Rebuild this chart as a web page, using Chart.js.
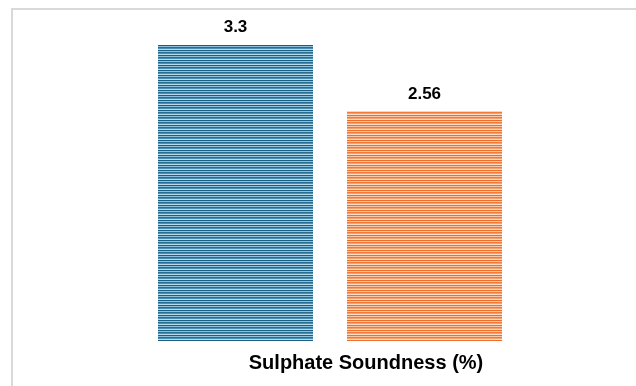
<!DOCTYPE html>
<html>
<head>
<meta charset="utf-8">
<script src="https://cdn.jsdelivr.net/npm/chart.js@4"></script>
<style>
  html, body { margin: 0; padding: 0; background: #ffffff; }
  #wrap { position: relative; width: 636px; height: 386px; overflow: hidden; }
  #frame { position: absolute; left: 11px; top: 8px; width: 700px; height: 500px;
           border-left: 2px solid #d9d9d9; border-top: 2px solid #d9d9d9; }
  canvas { position: absolute; left: 0; top: 0; }
</style>
</head>
<body>
<div id="wrap">
  <div id="frame"></div>
  <canvas id="c" width="636" height="386"></canvas>
</div>
<script>
// Sulphate soundness test results
const categories = ['A', 'B'];
const soundnessValues = [3.3, 2.56];
const axisTitle = 'Sulphate Soundness (%)';

// Horizontal line-stripe fills for the bars
function stripes(rows) {
  const c = document.createElement('canvas');
  c.width = 8; c.height = rows.length;
  const g = c.getContext('2d');
  rows.forEach((col, i) => { g.fillStyle = col; g.fillRect(0, i, 8, 1); });
  return g.createPattern(c, 'repeat');
}
const ctxMain = document.getElementById('c').getContext('2d');
const bluePattern = stripes(['#1c5f82', '#8fc2da', '#256f96', '#4a8fb2', '#b8dbeb']);
const orangePattern = stripes(['#ec6f2c', '#fbc6a4', '#ef7b3b', '#f4a070', '#fddcc8']);

const valueLabels = {
  id: 'valueLabels',
  afterDatasetsDraw(chart) {
    const ctx = chart.ctx;
    const meta = chart.getDatasetMeta(0);
    ctx.save();
    ctx.fillStyle = '#000000';
    ctx.font = 'bold 17px "Liberation Sans", Arial, sans-serif';
    ctx.textAlign = 'center';
    ctx.textBaseline = 'bottom';
    meta.data.forEach((bar, i) => {
      ctx.fillText(String(soundnessValues[i]), bar.x, bar.y - 9);
    });
    ctx.restore();
  }
};

const bottomTitle = {
  id: 'bottomTitle',
  afterDraw(chart) {
    const ctx = chart.ctx;
    const a = chart.chartArea;
    ctx.save();
    ctx.fillStyle = '#000000';
    ctx.font = 'bold 20px "Liberation Sans", Arial, sans-serif';
    ctx.textAlign = 'center';
    ctx.textBaseline = 'middle';
    ctx.fillText(axisTitle, (a.left + a.right) / 2 + 36, a.bottom + 22);
    ctx.restore();
  }
};

new Chart(ctxMain, {
  type: 'bar',
  data: {
    labels: categories,
    datasets: [{
      data: soundnessValues,
      backgroundColor: [bluePattern, orangePattern],
      borderWidth: 0,
      categoryPercentage: 1.0,
      barPercentage: 0.82
    }]
  },
  options: {
    responsive: false,
    animation: false,
    devicePixelRatio: 1,
    layout: { padding: { left: 141, right: 117, top: 27, bottom: 45 } },
    scales: {
      x: { display: false },
      y: { display: false, min: 0, max: 3.5 }
    },
    plugins: {
      legend: { display: false },
      tooltip: { enabled: false }
    }
  },
  plugins: [valueLabels, bottomTitle]
});
</script>
</body>
</html>
